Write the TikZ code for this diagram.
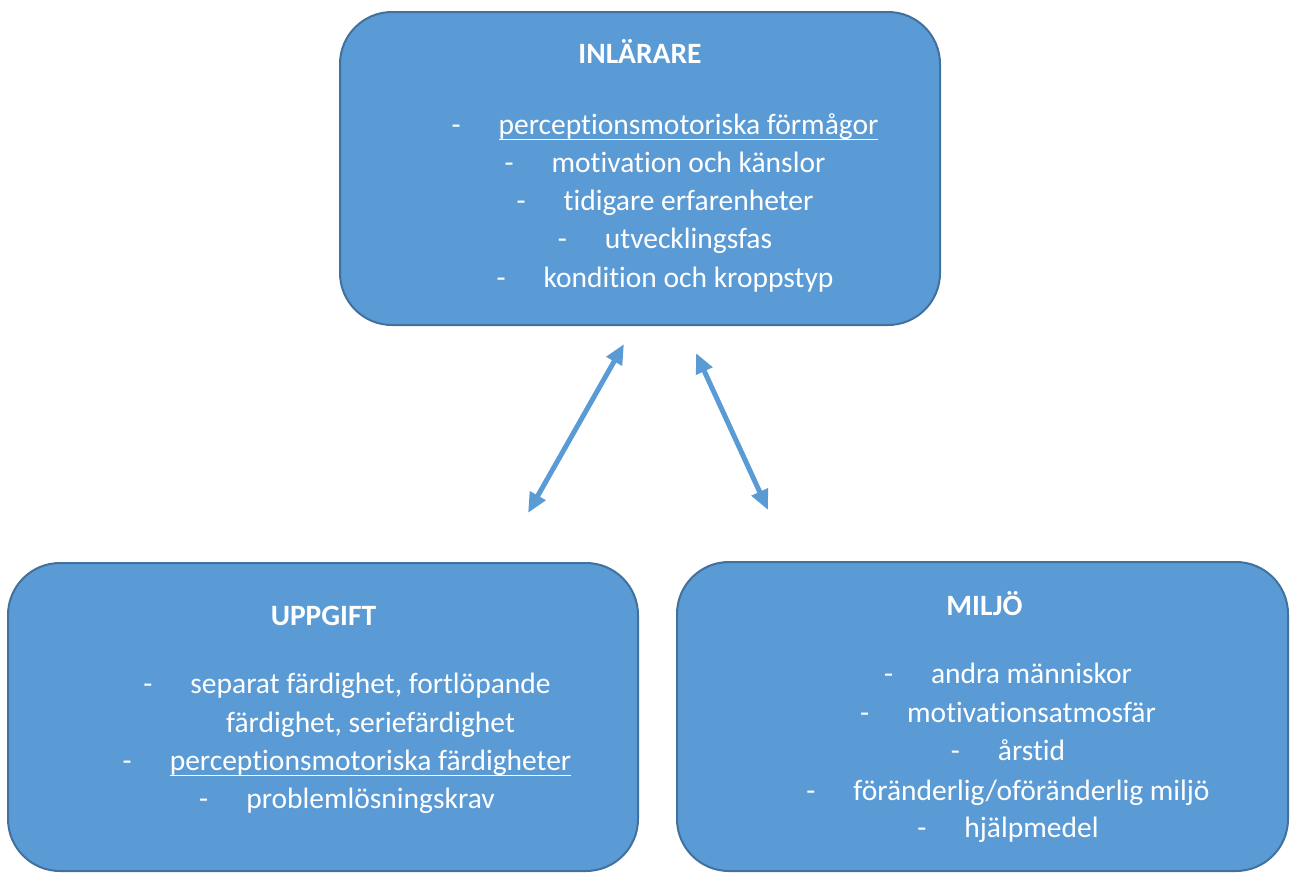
\documentclass[tikz,border=0pt]{standalone}
\usepackage{fontspec}
\setmainfont{Carlito}[Ligatures=NoCommon]
\usetikzlibrary{arrows.meta}
\definecolor{boxfill}{HTML}{5B9BD5}
\definecolor{boxline}{HTML}{41719C}
\newcommand\itm[1]{-\hspace{38pt}#1}
\newcommand\cont[1]{\hphantom{-}\hspace{38pt}#1}
\newcommand\myul[1]{\setbox0\hbox{#1}\rlap{\rule[-6pt]{\wd0}{1.5pt}}\box0}
\tikzset{
  box/.style={draw=boxline, fill=boxfill, line width=2pt, rounded corners=52pt, inner sep=0pt},
  head/.style={anchor=base, inner sep=0pt, text=white, font=\fontsize{29.5}{34}\selectfont\bfseries},
  line/.style={anchor=base, inner sep=0pt, text=white, font=\fontsize{29.5}{34}\selectfont},
  link/.style={draw=boxfill, line width=5pt, {Triangle[length=20pt,width=17pt]}-{Triangle[length=20pt,width=17pt]}}
}
\begin{document}
\begin{tikzpicture}[x=1pt,y=-1pt]
\useasboundingbox (0,0) rectangle (1296,873);
% boxes
\node[box, minimum width=600pt, minimum height=313pt] (inl) at (640,168.5) {};
\node[box, minimum width=630pt, minimum height=308pt] (upp) at (323,717) {};
\node[box, minimum width=611pt, minimum height=309pt] (mil) at (982.5,716.5) {};
% INLÄRARE
\node[head] (h1) at (640,63) {INLÄRARE};
\node[line] (a1) at (665,134) {\itm{\myul{perceptionsmotoriska förmågor}}};
\node[line] (a2) at (665,172) {\itm{motivation och känslor}};
\node[line] (a3) at (665,210) {\itm{tidigare erfarenheter}};
\node[line] (a4) at (665,248) {\itm{utvecklingsfas}};
\node[line] (a5) at (665,287) {\itm{kondition och kroppstyp}};
% UPPGIFT
\node[head] (h2) at (323.5,625) {UPPGIFT};
\node[line] (b1) at (347,693) {\itm{separat färdighet, fortlöpande}};
\node[line] (b2) at (347,732) {\cont{färdighet, seriefärdighet}};
\node[line] (b3) at (347,770) {\itm{\myul{perceptionsmotoriska färdigheter}}};
\node[line] (b4) at (347,808) {\itm{problemlösningskrav}};
% MILJÖ
\node[head] (h3) at (984.5,615) {MILJÖ};
\node[line] (c1) at (1008,683) {\itm{andra människor}};
\node[line] (c2) at (1008,722) {\itm{motivationsatmosfär}};
\node[line] (c3) at (1008,760) {\itm{årstid}};
\node[line] (c4) at (1008,800) {\itm{föränderlig/oföränderlig miljö}};
\node[line] (c5) at (1008,837) {\itm{hjälpmedel}};
% arrows
\coordinate (p1) at (528,513);
\coordinate (q1) at (624,344);
\coordinate (p2) at (696,353);
\coordinate (q2) at (768,510);
\draw[link] (p1) -- (q1);
\draw[link] (p2) -- (q2);
\end{tikzpicture}
\end{document}
